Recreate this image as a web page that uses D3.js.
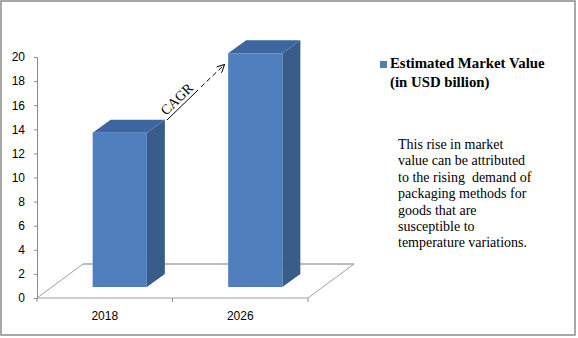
<!DOCTYPE html>
<html><head><meta charset="utf-8">
<script src="https://cdn.jsdelivr.net/npm/d3@7"></script>
<style>body{margin:0;background:#fff}svg{display:block}</style>
</head><body>
<script>
const categories = ["2018", "2026"];
const values = [12.8, 19.4];
const yTicks = [0, 2, 4, 6, 8, 10, 12, 14, 16, 18, 20];
const legendLines = ["Estimated Market Value", "(in USD billion)"];
const noteLines = ["This rise in market", "value can be attributed", "to the rising  demand of", "packaging methods for", "goods that are", "susceptible to", "temperature variations."];

const W = 578, H = 338;
const svg = d3.select("body").append("svg").attr("width", W).attr("height", H);

svg.append("rect").attr("x", 1).attr("y", 1).attr("width", 574).attr("height", 334)
  .attr("fill", "#fff").attr("stroke", "#8c8c8c").attr("stroke-width", 1.5);

const x = d3.scaleBand().domain(categories).range([37, 308]).padding(0);
const y = d3.scaleLinear().domain([0, 20]).range([298, 57]);

// depth offsets
const floorD = [46, -34], frontD = [15, -11], barD = [18, -13];

const g = svg.append("g");
// floor
const y0 = y(0), xl = x.range()[0], xr = x.range()[1];
g.append("line").attr("x1", xl + floorD[0]).attr("y1", y0 + floorD[1]).attr("x2", xr + floorD[0]).attr("y2", y0 + floorD[1])
  .attr("stroke", "#bdbdbd").attr("stroke-width", 2);
g.append("path").attr("d", `M${xl + floorD[0]},${y0 + floorD[1]}L${xl},${y0}L${xr},${y0}L${xr + floorD[0]},${y0 + floorD[1]}`)
  .attr("fill", "none").attr("stroke", "#a0a0a0").attr("stroke-width", 1);

// x ticks
const xt = [xl, ...categories.map(c => x(c) + x.bandwidth())];
g.selectAll(".xt").data(xt).join("line").attr("x1", d => d).attr("x2", d => d)
  .attr("y1", y0).attr("y2", y0 + 4).attr("stroke", "#8c8c8c");

// y axis
const yAxis = d3.axisLeft(y).tickValues(yTicks).tickSize(3).tickPadding(9);
const ya = svg.append("g").attr("transform", "translate(37,0)").call(yAxis);
ya.select(".domain").attr("stroke", "#8c8c8c");
ya.selectAll(".tick line").attr("stroke", "#8c8c8c");
ya.selectAll("text").attr("font-family", "Liberation Sans, Arial, sans-serif").attr("font-size", 12).attr("fill", "#000");

// x labels
svg.selectAll(".xl").data(categories).join("text")
  .attr("x", d => x(d) + x.bandwidth() / 2).attr("y", 320)
  .attr("text-anchor", "middle").attr("font-family", "Liberation Sans, Arial, sans-serif").attr("font-size", 12)
  .text(d => d);

// bars
const bw = x.bandwidth() * 0.4;
categories.forEach((c, i) => {
  const x0 = x(c) + (x.bandwidth() - bw) / 2 + frontD[0];
  const x1 = x0 + bw;
  const yt = y(values[i]) + frontD[1];
  const yb = y(0) + frontD[1];
  const [dx, dy] = barD;
  g.append("path").attr("d", `M${x1},${yb}L${x1 + dx},${yb + dy}L${x1 + dx},${yt + dy}L${x1},${yt}Z`).attr("fill", "#385d8a");
  g.append("path").attr("d", `M${x0},${yt}L${x0 + dx},${yt + dy}L${x1 + dx},${yt + dy}L${x1},${yt}Z`).attr("fill", "#3d66a0");
  g.append("rect").attr("x", x0).attr("y", yt).attr("width", bw).attr("height", yb - yt).attr("fill", "#4f80bd");
});

// CAGR annotation
svg.append("defs").append("marker").attr("id", "arr").attr("viewBox", "0 0 10 10").attr("refX", 9).attr("refY", 5)
  .attr("markerWidth", 8).attr("markerHeight", 8).attr("orient", "auto").attr("markerUnits", "userSpaceOnUse")
  .append("path").attr("d", "M0,0L10,5L0,10").attr("fill", "none").attr("stroke", "#000").attr("stroke-width", 1.2);
svg.append("line").attr("x1", 167).attr("y1", 120).attr("x2", 198).attr("y2", 90).attr("stroke", "#000").attr("stroke-width", 1);
svg.append("line").attr("x1", 201).attr("y1", 87).attr("x2", 224).attr("y2", 65).attr("stroke", "#000").attr("stroke-width", 1)
  .attr("stroke-dasharray", "5,3").attr("marker-end", "url(#arr)");
svg.append("text").attr("transform", "translate(166,116) rotate(-44)")
  .attr("font-family", "Liberation Serif, Times New Roman, serif").attr("font-size", 14).text("CAGR");

// legend
svg.append("rect").attr("x", 380).attr("y", 61).attr("width", 7).attr("height", 7).attr("fill", "#4f80bd");
svg.selectAll(".lg").data(legendLines).join("text").attr("x", 390).attr("y", (d, i) => 68 + i * 19)
  .attr("font-family", "Liberation Serif, Times New Roman, serif").attr("font-size", 14.8).attr("font-weight", "bold").text(d => d);

// note
svg.selectAll(".nt").data(noteLines).join("text").attr("x", 398).attr("y", (d, i) => 149 + i * 16.4)
  .attr("font-family", "Liberation Serif, Times New Roman, serif").attr("font-size", 14).attr("xml:space", "preserve")
  .style("white-space", "pre").text(d => d);
</script>
</body></html>
